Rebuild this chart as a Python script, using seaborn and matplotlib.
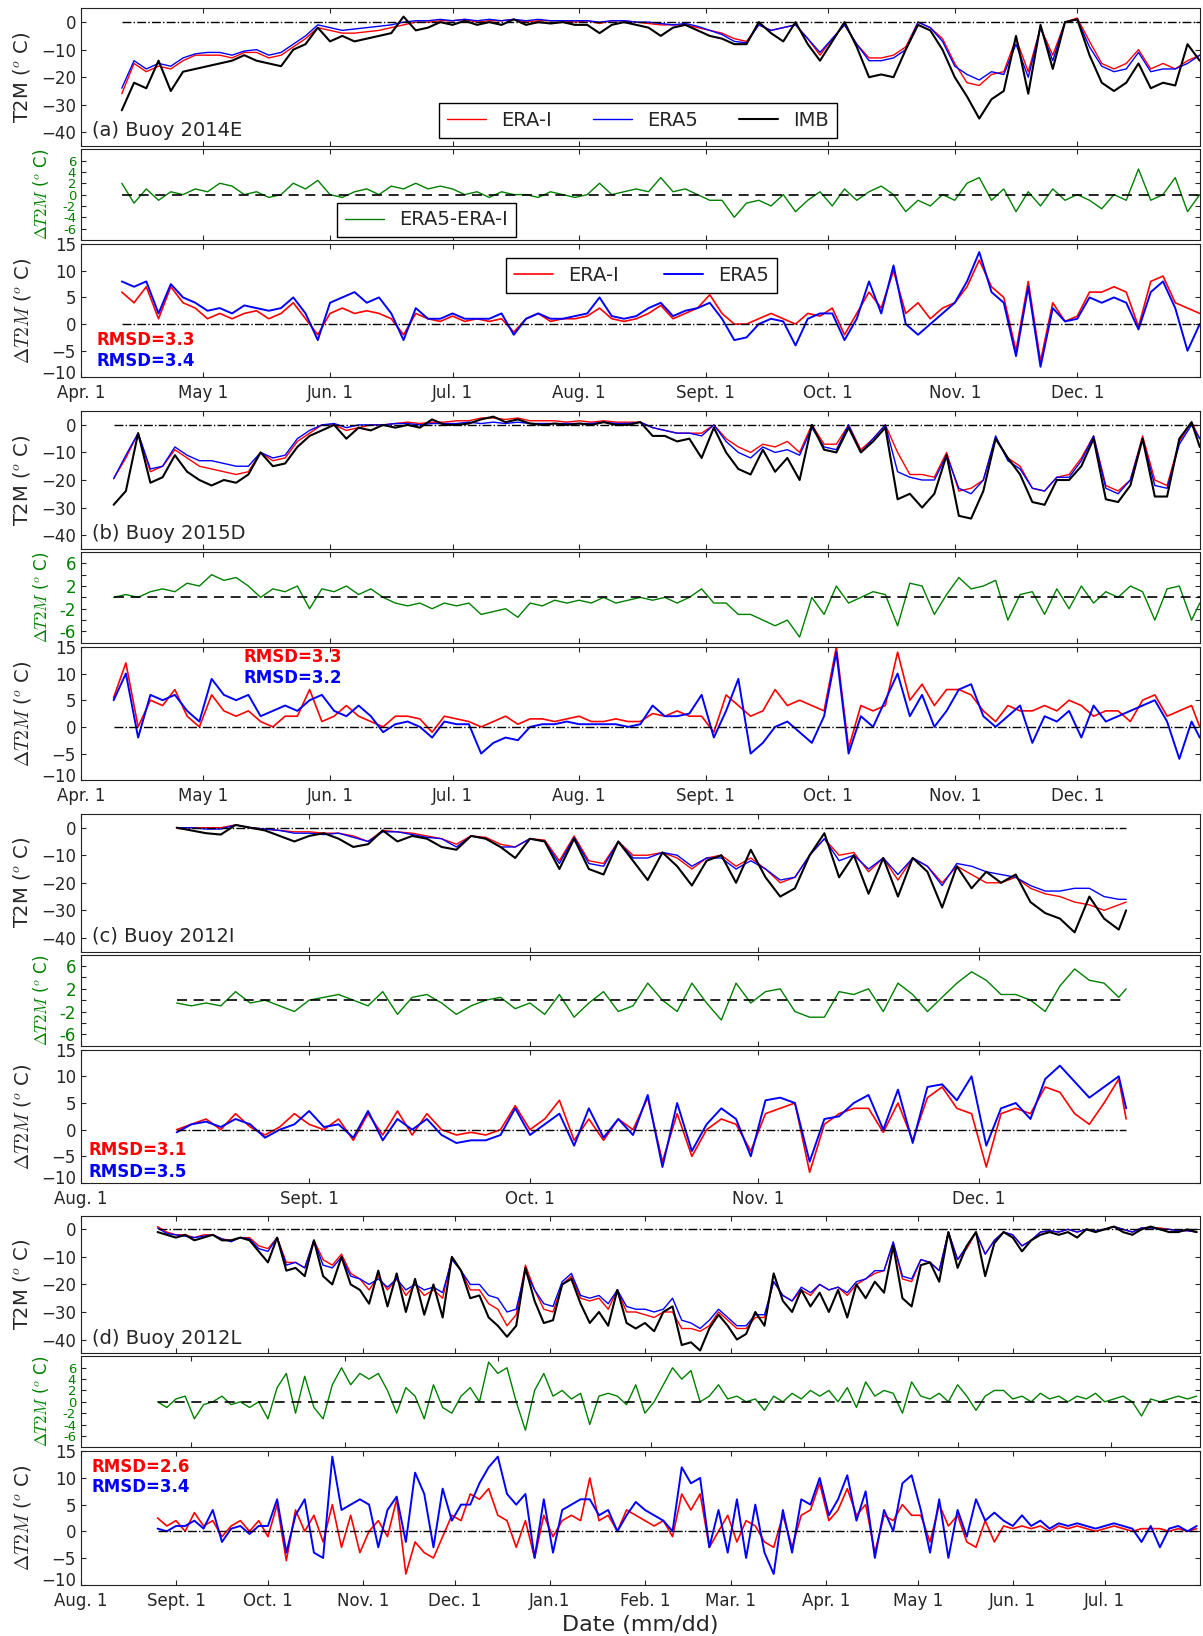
# -*- coding: utf-8 -*-
# T2M de las boyas IMB frente a ERA-I y ERA5 (4 boyas, 3 paneles cada una)
import numpy as np
import matplotlib
matplotlib.use("Agg")
import matplotlib.pyplot as plt
import matplotlib.transforms as mtransforms
import seaborn as sns

# ---------------- datos ----------------
# (a) Buoy 2014E -- dias desde 1 de abril
a_days = np.arange(10, 275, 3)
a_imb = [-32, -22, -24, -14, -25, -18, -17, -16, -15, -14,
         -12, -14, -15, -16, -10, -8, -2, -7, -5, -7,
         -6, -5, -4, 2, -3, -2, 0, -1, 0.5, -1,
         0, -1, 1, -1, 0, -0.5, 0, -1, -1, -4,
         -1, 0, -1, -2, -5, -2, -1, -3, -5, -6,
         -8, -8, 0, -4, -7, 0, -8, -14, -7, 0,
         -9, -20, -19, -20, -10, -1, -3, -10, -20, -27,
         -35, -28, -25, -5, -26, -1, -17, 0, 1, -12,
         -22, -25, -22, -15, -24, -22, -23, -8, -14]
a_erai = [-26, -15, -18, -16, -17, -14, -12, -12, -12, -13,
          -11, -11, -13, -12, -9, -6, -2, -3, -4, -4,
          -3.5, -3, -2, -1, 0, 0, 0.5, 0.5, 1, 0,
          0.5, 0.5, 1, 0, 0.5, 0.5, 0.5, 0, 0.5, -0.5,
          0.5, 0.5, 0, -0.5, -1, -1, -1, -2, -3, -4,
          -6, -7, -1, -3, -2, -1, -6, -12, -6, -1,
          -8, -13, -13, -12, -9, 0, -2, -6, -15, -22,
          -23, -19, -18, -6, -18, -2, -12, 0, 1.5, -7,
          -15, -17, -15, -10, -17, -15, -17, -14, -12]
a_era5 = [-24, -14, -17, -15, -16, -13, -11.5, -11, -11, -12,
          -10.5, -10, -12, -11, -8, -5, -1, -2, -3, -2.5,
          -2, -1.5, -1, 0, 0.5, 0.5, 1, 0.5, 1, 0.5,
          1, 0.5, 1, 0.5, 1, 0.5, 0.5, 0.5, 0.5, 0,
          0.5, 0.5, 0, 0, -0.5, -1, -0.5, -1.5, -3, -4.5,
          -7, -7.5, -1, -3, -2, -1, -6, -11, -6, -1,
          -8, -14, -14, -13, -10, 0, -2, -7, -16, -19,
          -21, -18, -19, -8, -20, -2, -14, 0, 1, -9,
          -16, -18, -17, -11, -18, -17, -17, -15, -12]
a_dif = [2, -1.5, 1, -1, 0.5, 0, 1, 0.5, 2, 1.5,
         0, 0.5, -0.5, 0, 2, 1, 2.5, 0, -0.5, 0.5,
         1, 0, 1.5, 1, 2, 1, 1.5, 1, 0, 0.5,
         -0.5, 0.5, 0, 0, -0.5, 0.5, 0, -0.5, 0, 2,
         0, 0.5, 1, 0.5, 3, 0.5, 1, 0, -1, -1,
         -4, -1.5, -1, -2, 0, -3, -1, 0.5, -2, 1,
         -1, 0.5, 1.5, 0, -3, -1, -2, 0, -1, 2,
         3, -1, 1, -3, 0.5, -2, 1, -1, 0, -1,
         -2.5, 0, -1, 4.5, -1, 0, 3, -3, 0]
a_err_i = [6, 4, 7, 1, 7, 4, 3, 1, 2, 1,
           2, 2.5, 1, 2, 4, 1, -2, 2, 3, 2,
           2.5, 2, 1, -2, 2, 1, 0.5, 1.5, 0.5, 1,
           0.5, 1, -1.5, 1, 2, 0.5, 1, 1, 1.5, 3,
           1, 0.5, 1, 2, 3.5, 1, 2, 3, 5.5, 2,
           0, 0, 1, 2, 1, 0, 2, 1.5, 3, -2,
           2, 6, 3, 10, 2, 4, 1, 3, 4, 7,
           12, 7, 5, -5, 8, -7, 4, 0.5, 1.5, 6,
           6, 7, 6, -0.5, 8, 9, 4, 3, 2]
a_err_5 = [8, 7, 8, 2, 7.5, 5, 4, 2.5, 3, 2,
           3.5, 3, 2.5, 3, 5, 2, -3, 4, 5, 6,
           4, 5, 2, -3, 3, 1, 1, 2, 1, 1,
           1, 2, -2, 1, 2, 1, 1, 1.5, 2, 5,
           1.5, 1, 1.5, 3, 4, 1.5, 2.5, 3, 4, 1,
           -3, -2.5, 0, 1, 0.5, -4, 1, 2, 2, -3,
           1, 8, 2, 11, 0, -2, 0, 2, 4, 8,
           13.5, 6, 4, -6, 7, -8, 3, 0.5, 1, 5,
           4, 5, 4, -1, 6, 8, 3, -5, 0]

# (b) Buoy 2015D -- dias desde 1 de abril
b_days = np.append(np.arange(8, 273, 3), 274)
b_imb = [-29, -24, -3, -21, -19, -11, -17, -20, -22, -20,
         -21, -18, -10, -15, -14, -8, -4, -2, 0, -5,
         -1, -2, 0, -1, 0, -1, 2, 0, 0, 0.5,
         2, 3, 1, 2, 0.5, 0, 0.5, 0, 0.5, 0,
         1, 0, 0, 1, -4, -4, -6, -5, -12, -1,
         -10, -16, -18, -9, -17, -12, -20, 0, -9, -10,
         -1, -10, -6, -1, -27, -25, -30, -25, -11, -33,
         -34, -24, -5, -12, -18, -28, -29, -20, -20, -15,
         -5, -27, -28, -22, -5, -26, -26, -5, 1, -8]
b_erai = [-19.5, -12, -3, -17, -15, -9, -12, -15, -16, -17,
          -18, -17, -10, -13, -12, -6, -3, 0, 0, -2,
          -1, 0, 0, 0.5, 1, 0.5, 1, 1, 1.5, 1.5,
          2.5, 2.5, 2, 2.5, 1.5, 1.5, 1.5, 1, 1.5, 1,
          1.5, 1, 1, 1, -1, -2, -3, -3, -3, 0,
          -5, -8, -10, -7, -8, -6, -10, 0, -7, -7,
          0, -9, -5, 0, -10, -18, -18, -19, -10, -24,
          -23, -20, -5, -12, -15, -23, -24, -19, -18, -12,
          -4, -22, -24, -20, -4, -20, -22, -6, 1, -5]
b_era5 = [-19.5, -11, -3, -16, -15, -8, -11, -13, -13, -14,
          -15, -15, -10, -12, -11, -5, -2, 0, 0.5, -1,
          0, 0, 0, 0.5, 0.5, 0, 0.5, 0.5, 0.5, 1,
          0.5, 1, 0.5, 1, 0.5, 0.5, 0.5, 0.5, 0.5, 0.5,
          1, 0.5, 0.5, 1, -1, -2, -3, -3, -4, 0,
          -6, -10, -12, -8, -10, -9, -11, -1, -8, -9,
          0, -10, -5, 0, -17, -19, -20, -20, -11, -23,
          -25, -20, -4, -13, -16, -23, -24, -19, -19, -13,
          -4, -23, -25, -20, -5, -22, -23, -7, 0, -5]
b_dif = [0, 0.5, 0, 1, 1.5, 1, 2.5, 2, 4, 3,
         3.5, 2, 0, 1.5, 1, 2, -2, 1.5, 1, 2,
         0.5, 1.5, 0, -1, -1.5, -1, -2, -1, -1.5, -1,
         -3, -2.5, -2, -3.5, -1, -1.5, -0.5, -1, -0.5, -1,
         0, -1, -0.5, 0, -0.5, 0, -1, 0, 1.5, -1,
         -1, -3, -3, -4, -5, -4, -7, 0, -3, 2,
         -1, 0, 1, 0.5, -5, 2.5, 2, -3, 0.5, 3.5,
         1.5, 2, 3, -4, 0.5, 1, -3, 1.5, -2, 2,
         -1, 1, 0, 2, 1, -4, 1.5, 2, -4, -1]
b_err_i = [5.5, 12, 0, 5, 4, 7, 2, 0, 6, 3,
           2, 3, 1, 0, 2, 2, 7, 1, 2, 4,
           2, 1, 0, 2, 2, 1.5, -1, 2, 1.5, 1,
           0, 1, 2, 0.5, 1.5, 1.5, 1, 1.5, 2, 1,
           1, 1.5, 1, 1, 2.5, 2, 3, 2, 2, -1,
           6, 4, 2, 3, 7, 4, 5, 4, 3, 15,
           -4, 4, 3, 4, 14, 5, 8, 4, 7, 7,
           6, 3, 1, 4, 3, 3, 4, 3, 5, 4,
           2, 3, 3, 1, 5, 6, 2, 3, 4, 0]
b_err_5 = [5, 10, -2, 6, 5, 6, 3, 1, 9, 6,
           5, 6, 2, 3, 4, 3, 5, 6, 3, 2,
           4, 2, -1, 0.5, 1, 0, -2, 1, 0.5, 0.5,
           -5, -3, -2, -2.5, 0, 0.5, 0.5, 1, 0.5, 0.5,
           0.5, 0.5, 0, 0.5, 4, 2, 2, 2.5, 6, -2,
           3, 9, -5, -3, 0, 1, -1, -3, 2, 14,
           -5, 2, 0, 5, 10, 2, 6, 0, 3, 7,
           8, 2, 0, 2, 4, -3, 2, 1, 3, -2,
           4, 1, 2, 3, 4, 5, 1, -6, 1, -2]

# (c) Buoy 2012I -- dias desde 1 de agosto
c_days = np.append(np.arange(13, 142, 2), 142)
c_imb = [0, -1, -2, -2.5, 1, 0, -1, -3, -5, -3,
         -2, -4, -7, -6, -1, -5, -3, -4, -7, -8,
         -3, -4, -7, -11, -4, -5, -15, -4, -15, -17,
         -5, -12, -19, -9, -14, -21, -12, -10, -20, -8,
         -18, -25, -22, -10, -2, -18, -10, -24, -11, -25,
         -11, -16, -29, -14, -22, -16, -20, -17, -27, -31,
         -33, -38, -25, -33, -37, -30]
c_erai = [0, 0, 0, 0, 1, 0, -0.5, -1, -1.5, -1.5,
          -2, -2, -3, -5, -1, -1.5, -2, -3, -4, -6,
          -3, -3.5, -6, -7, -4, -4.5, -12, -3, -12, -13,
          -5, -10, -10, -9, -11, -15, -11, -10, -14, -11,
          -15, -20, -18, -10, -4, -10, -9, -16, -11, -19,
          -11, -14, -20, -14, -17, -20, -20, -18, -22, -24,
          -25, -27, -28, -30, -28, -27]
c_era5 = [0, 0, -0.5, -0.5, 1, 0, -0.5, -1, -2, -2,
          -2.5, -2, -3.5, -5, -1.5, -1.5, -2.5, -3.5, -4, -7,
          -3, -4, -7, -7, -4, -5, -13, -3.5, -13, -14,
          -5, -11, -11, -9, -10, -14, -11, -11, -15, -12,
          -15, -19, -18, -10, -4, -12, -10, -15, -11, -17,
          -11, -14, -21, -13, -14, -16, -17, -18, -21, -23,
          -23, -22, -22, -25, -26, -26]
c_dif = [-0.5, -1, -0.5, -1, 1.5, -0.5, 0, -1, -2, 0,
         0.5, 1, 0, -1, 1.5, -2.5, 0.5, 1, -0.5, -2.5,
         -1, 0, 0.5, -1.5, -0.5, -2.5, 1, -3, -0.5, 1.5,
         -2, -1, 3, 0, -2, 3, -0.5, -3.5, 3, -0.5,
         1.5, 2, -2, -3, -3, 1.5, 1, 2, -2, 3,
         1, -2, 0.5, 3, 5, 3.5, 1, 1, 0, -2,
         2.5, 5.5, 3.5, 3, 0.5, 2]
c_err_i = [0, 1, 2, 0, 3, 0.5, -1, 0.5, 3, 1,
           0, 2, -2, 3, -1, 3.5, -1, 3, 0, -1,
           -0.5, -1, 0, 4.5, 0, 2, 5.5, -2, 2, -2,
           2, 0, 6, -6, 3, -5, 0, 2, 1, -4,
           3, 4, 5, -8, 1, 3, 4, 4, -0.5, 5,
           -2, 6, 8, 4, 3, -7, 3, 4, 3, 8,
           7, 3, 1, 5, 9.5, 2]
c_err_5 = [-0.5, 1, 1.5, 0.5, 2, 1, -1.5, 0, 1, 3.5,
           0.5, 1, -1.5, 3.5, -2, 2, 0, 2, -1, -2.5,
           -2, -2, -1, 4, -1, 1, 3, -3, 4, -1.5,
           2, -1, 6.5, -7, 5, -4, 1, 4, 2, -5,
           5.5, 6, 5, -6, 2, 2.5, 5, 6.5, 0, 7.5,
           -2.5, 8, 8.5, 5.5, 10, -3, 4, 5, 2, 9.5,
           12, 9, 6, 8, 10, 4]

# (d) Buoy 2012L -- dias desde 1 de agosto de 2012
d_days = np.arange(25, 365, 3)
d_imb = [-1, -2, -3, -2, -4, -3, -2, -4, -4, -3,
         -4, -8, -12, -3, -15, -14, -17, -4, -17, -20,
         -10, -20, -22, -27, -15, -28, -16, -30, -18, -31,
         -20, -32, -10, -15, -25, -24, -32, -35, -39, -35,
         -14, -26, -34, -33, -20, -18, -27, -34, -30, -35,
         -22, -34, -36, -34, -37, -30, -28, -42, -41, -44,
         -36, -31, -35, -40, -38, -30, -35, -16, -26, -30,
         -22, -28, -23, -30, -22, -32, -20, -25, -19, -23,
         -6, -25, -28, -13, -12, -19, -1, -14, -6, -1,
         -17, -5, -1, -3, -8, -4, -2, -1, -2, -1,
         -3, 0, -1, 0, 1, -1, -2, 0, 1, 0,
         -1, -1, 0, -1]
d_erai = [1, -1, -2, -2, -3, -2, -2, -3.5, -4, -3,
          -3, -6, -7, -3, -12, -12, -14, -4, -11, -13,
          -9, -16, -18, -22, -17, -22, -18, -24, -20, -24,
          -22, -25, -10, -15, -22, -22, -27, -29, -35, -31,
          -13, -22, -29, -30, -20, -17, -25, -26, -25, -29,
          -22, -30, -30, -31, -32, -30, -30, -36, -36, -37,
          -35, -30, -33, -36, -36, -32, -32, -19, -24, -26,
          -22, -24, -20, -22, -21, -24, -20, -18, -16, -15,
          -5, -18, -19, -11, -12, -15, -1, -11, -7, -1,
          -9, -4, -1, -2, -6, -4, -1, -0.5, -1, 0,
          -1, 0, -0.5, 0, 1, 0, -1, 0.5, 0.5, 0.5,
          0, -0.5, -0.5, -1]
d_era5 = [0.5, -1.5, -2, -2.5, -3, -2.5, -2, -3.5, -4.5, -3,
          -3.5, -7, -8, -3, -13, -12, -14, -4, -13, -14,
          -10, -17, -18, -20, -18, -21, -18, -22, -20, -22,
          -21, -23, -11, -15, -20, -20, -24, -25, -30, -29,
          -15, -22, -27, -28, -19, -16, -24, -25, -24, -27,
          -22, -28, -29, -29, -30, -29, -25, -33, -34, -36,
          -33, -29, -32, -35, -35, -31, -31, -19, -24, -26,
          -21, -23, -20, -22, -21, -23, -19, -18, -15, -15,
          -4.5, -17, -18, -11, -12, -15, -1, -11, -6, -1,
          -9, -4, -1, -2, -6, -4, -1, -0.5, -1, 0,
          -1, 0, -0.5, 0, 1, 0, -1, 0.5, 0.5, 0,
          0, -0.5, -0.5, -1]
d_dif = [0, -1, 0.5, 1, -3, -0.5, 0, 1, -0.5, 0,
         -1, 0, -3, 2.5, 5, -2, 4.5, -1, -3, 3,
         6, 3, 5, 4, 5, 2, -2, 2.5, 1, -3,
         3, -1, -2, 1, 2.5, 0, 7, 5, 6, 0,
         -5, 2, 5, 1, 2, 0.5, 1.5, -4, 1, 1.5,
         1, -0.5, 3, -2, 0, 3, 6, 4, 5.5, 0,
         1, 3, 0.5, 1, 0, 0.5, -1.5, 1, 0, 1.5,
         0.5, 2, 1, 2, 0, 2.5, -1, 3.5, 1, 2,
         1.5, -2, 3.5, 1, 0.5, 1.5, 0, 3, 1, -1.5,
         1, 2, 2, 0.5, 1, 0, 1.5, 0.5, 1, 0,
         1, 0.5, 1.5, 0, 0.5, 1, 0, -2.5, 0.5, 0,
         0.5, 1, 0.5, 1]
d_err_i = [2.5, 1, 2, 0, 3.5, 1, 2, -1, 1, 2,
           0, 2, -1, 5, -5.5, 4, 0, 3, -2, 5,
           -3, 3, -4, 0, 2, -1, 6, -8, -2, -4,
           -5, -1, 3, 2, 7, 6, 8, 3, 2, -3,
           2, -5, 3, -1, 2, 3, 2, 10, 2, 3,
           0, 4, 3, 2, 1, 2, -1, 7, 4, 7,
           -3, 0, 3, -2, 2, 1, -2, -3, 3, -3,
           3, 4, 9, 2, 4, 8, 3, 5, -4, 3,
           2, 5, 3, 3, -2, 5, 1, 3, -2, -3,
           2, -2, 1, 0.5, 1, 0.5, 1, 0, 1, 0.5,
           1, 0.5, 0, 0.5, 1, 0.5, 0, 0.5, 0.5, 0.5,
           0, 0.5, 0, 0.5]
d_err_5 = [0.5, 0, 1, 1, 2, 0.5, 4, -2, 0.5, 1,
           -0.5, 1, 1, 6, -4, 3, 6, -4, -5, 14,
           4, 5, 6, 5, -3, 4, 6.5, -2, 11, 7,
           -3, 8, 2, 5, 5, 9, 12, 14, 7, 5,
           7, -5, 6, -4, 4, 5, 6, 6, 3, 4,
           0, 3, 5.5, 4, 3, 2, 0, 12, 9, 10,
           -3, 4, -4, 6, -5, 5, -4, -8, 4, -4,
           6, 5, 10, 3, 6, 10.5, 2, 7.5, -5, 4,
           0, 9, 10.5, 4, -4, 6, -5, 4, -1, 6,
           2, 3.5, 2, 1, 3, 1, 2, 0.5, 1.5, 1,
           1.5, 1, 0.5, 1, 1.5, 1, 0.5, -2, 1, -3,
           0.5, 1, 0, 1]

# ejes de fechas
ab_ticks = [0, 30, 61, 91, 122, 153, 183, 214, 244]
ab_labels = ["Apr. 1", "May 1", "Jun. 1", "Jul. 1", "Aug. 1", "Sept. 1", "Oct. 1", "Nov. 1", "Dec. 1"]
c_ticks = [0, 31, 61, 92, 122]
c_labels = ["Aug. 1", "Sept. 1", "Oct. 1", "Nov. 1", "Dec. 1"]
d_ticks = [0, 31, 61, 92, 122, 153, 184, 212, 243, 273, 304, 334]
d_labels = ["Aug. 1", "Sept. 1", "Oct. 1", "Nov. 1", "Dec. 1", "Jan.1", "Feb. 1", "Mar. 1",
            "Apr. 1", "May 1", "Jun. 1", "Jul. 1"]
d_green_ticks = [36, 86, 136, 186, 236, 286, 336]

# ---------------- estilo ----------------
sns.set_style("ticks", rc={
    "xtick.direction": "in", "ytick.direction": "in",
    "xtick.top": True, "ytick.right": True,
    "xtick.major.size": 6, "ytick.major.size": 6,
    "axes.linewidth": 1.2, "axes.edgecolor": "#222222",
})
plt.rcParams["font.family"] = ["DejaVu Sans"]
plt.rcParams["mathtext.fontset"] = "cm"
plt.rcParams["xtick.labelsize"] = 12
plt.rcParams["ytick.labelsize"] = 12
plt.rcParams["xtick.major.pad"] = 5

fig = plt.figure(figsize=(12.03, 16.36), dpi=100)
L, W = 0.0673, 0.930
H_T, H_G, H_E = 0.0842, 0.0555, 0.0815
GAP1, GAP2 = 0.0019, 0.0025
# pequeno desplazamiento hacia arriba del "-10" para que no pise la fecha
lift = mtransforms.ScaledTranslation(0, 4 / 72, fig.dpi_scale_trans)


def draw_group(top, days, imb, erai, era5, dif, err_i, err_5, xmax, ticks, labels,
               name, rmsd, rmsd_xy, green_ticks=None, green_full=True, legends=False):
    ax1 = fig.add_axes([L, top - H_T, W, H_T])
    ax2 = fig.add_axes([L, top - H_T - GAP1 - H_G, W, H_G])
    ax3 = fig.add_axes([L, top - H_T - GAP1 - H_G - GAP2 - H_E, W, H_E])

    # 1. T2M
    sns.lineplot(x=days, y=erai, color="r", lw=1.0, ax=ax1, label="ERA-I", legend=False)
    sns.lineplot(x=days, y=era5, color="b", lw=1.0, ax=ax1, label="ERA5", legend=False)
    sns.lineplot(x=days, y=imb, color="k", lw=1.5, ax=ax1, label="IMB", legend=False)
    ax1.hlines(0, days[0], days[-1], colors="k", linestyles="-.", lw=1)
    ax1.set_ylim(-45, 5)
    ax1.set_yticks([-40, -30, -20, -10, 0])
    ax1.set_ylabel("T2M ($^o$ C)", fontsize=14)
    ax1.yaxis.set_label_coords(-0.044, 0.5)
    ax1.text(0.01, 0.11, name, transform=ax1.transAxes, fontsize=14, va="center")

    # 2. ERA5 - ERA-I
    sns.lineplot(x=days, y=dif, color="g", lw=1.0, ax=ax2, label="ERA5-ERA-I", legend=False)
    ax2.hlines(0, days[0], days[-1], colors="k", linestyles=(0, (6, 4)), lw=1.2)
    ax2.set_ylim(-8, 8)
    g_ticks = [-6, -4, -2, 0, 2, 4, 6]
    ax2.set_yticks(g_ticks)
    if green_full:
        ax2.set_yticklabels([str(v) for v in g_ticks])
        ax2.tick_params(axis="y", labelcolor="g", labelsize=9.5)
    else:
        ax2.set_yticklabels([str(v) if v % 4 != 0 else "" for v in g_ticks])
        ax2.tick_params(axis="y", labelcolor="g")
    ax2.set_ylabel(r"$\Delta T2M$ ($^o$ C)", fontsize=12, color="g")
    ax2.yaxis.set_label_coords(-0.027, 0.5)

    # 3. modelo - IMB
    sns.lineplot(x=days, y=err_i, color="r", lw=1.2, ax=ax3, label="ERA-I", legend=False)
    sns.lineplot(x=days, y=err_5, color="b", lw=1.4, ax=ax3, label="ERA5", legend=False)
    ax3.hlines(0, days[0], days[-1], colors="k", linestyles="-.", lw=1)
    ax3.set_ylim(-10, 15)
    ax3.set_yticks([-10, -5, 0, 5, 10, 15])
    lab0 = ax3.get_yticklabels()[0]
    lab0.set_transform(lab0.get_transform() + lift)
    ax3.set_ylabel(r"$\Delta T2M$ ($^o$ C)", fontsize=14)
    ax3.yaxis.set_label_coords(-0.043, 0.5)
    ax3.text(rmsd_xy[0], rmsd_xy[1], "RMSD=%.1f" % rmsd[0], color="r", fontsize=12,
             fontweight="bold", transform=ax3.transAxes, va="center")
    ax3.text(rmsd_xy[0], rmsd_xy[2], "RMSD=%.1f" % rmsd[1], color="b", fontsize=12,
             fontweight="bold", transform=ax3.transAxes, va="center")

    for ax in (ax1, ax2, ax3):
        ax.set_xlim(0, xmax)
        ax.set_xlabel("")
    ax1.set_xticks(ticks)
    ax1.set_xticklabels([])
    ax2.set_xticks(ticks if green_ticks is None else green_ticks)
    ax2.set_xticklabels([])
    ax3.set_xticks(ticks)
    ax3.set_xticklabels(labels)

    if legends:
        ax1.legend(loc="lower left", bbox_to_anchor=(0.32, 0.06), ncol=3, fontsize=14,
                   fancybox=False, edgecolor="k", framealpha=1, columnspacing=2.1,
                   handlelength=2.0, borderaxespad=0)
        ax2.legend(loc="lower left", bbox_to_anchor=(0.229, 0.03), fontsize=14,
                   fancybox=False, edgecolor="k", framealpha=1, handlelength=2.0,
                   borderaxespad=0)
        ax3.legend(loc="upper left", bbox_to_anchor=(0.38, 0.896), ncol=2, fontsize=14,
                   fancybox=False, edgecolor="k", framealpha=1, columnspacing=2.3,
                   handlelength=2.0, borderaxespad=0)
    return ax3


draw_group(0.9949, a_days, a_imb, a_erai, a_era5, a_dif, a_err_i, a_err_5, 274,
           ab_ticks, ab_labels, "(a) Buoy 2014E", (3.3, 3.4), (0.014, 0.28, 0.12),
           green_full=True, legends=True)
draw_group(0.7487, b_days, b_imb, b_erai, b_era5, b_dif, b_err_i, b_err_5, 274,
           ab_ticks, ab_labels, "(b) Buoy 2015D", (3.3, 3.2), (0.145, 0.924, 0.765),
           green_full=False)
draw_group(0.5025, c_days, c_imb, c_erai, c_era5, c_dif, c_err_i, c_err_5, 152,
           c_ticks, c_labels, "(c) Buoy 2012I", (3.1, 3.5), (0.007, 0.25, 0.085),
           green_full=False)
ax_last = draw_group(0.2570, d_days, d_imb, d_erai, d_era5, d_dif, d_err_i, d_err_5, 365,
                     d_ticks, d_labels, "(d) Buoy 2012L", (2.6, 3.4), (0.009, 0.882, 0.731),
                     green_ticks=d_green_ticks, green_full=True)
ax_last.set_xlabel("Date (mm/dd)", fontsize=16)

fig.savefig("out.png", dpi=100)
